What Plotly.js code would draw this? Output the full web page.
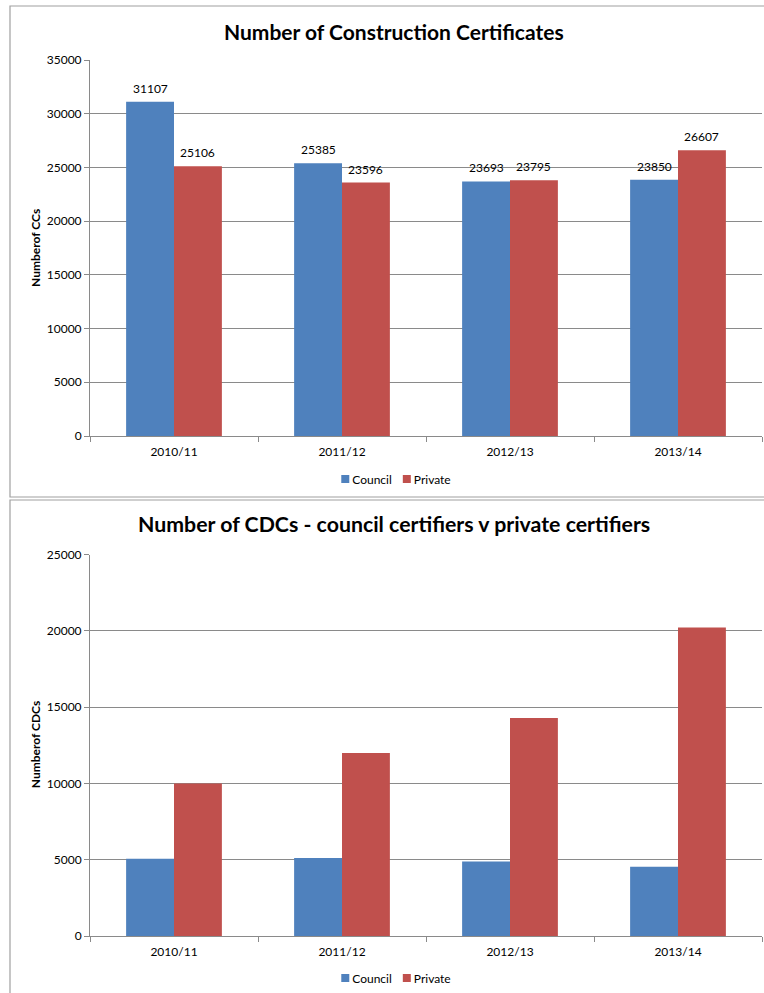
<!DOCTYPE html>
<html>
<head>
<meta charset="utf-8">
<script src="https://cdn.plot.ly/plotly-3.0.1.min.js"></script>
<style>
html,body{margin:0;padding:0;background:#fff;}
#top{position:absolute;left:0;top:0;width:764px;height:498px;}
#bottom{position:absolute;left:0;top:498px;width:764px;height:495px;}
</style>
</head>
<body>
<div id="top"></div>
<div id="bottom"></div>
<script>
// ---- data ----
const years = ["2010/11", "2011/12", "2012/13", "2013/14"];
const ccCouncil = [31107, 25385, 23693, 23850];
const ccPrivate = [25106, 23596, 23795, 26607];
const cdcCouncil = [5065, 5110, 4890, 4540];
const cdcPrivate = [9990, 11990, 14280, 20220];
const seriesNames = ["Council", "Private"];
const ccTicks = [0, 5000, 10000, 15000, 20000, 25000, 30000, 35000];
const cdcTicks = [0, 5000, 10000, 15000, 20000, 25000];
const titleTop = "Number of Construction Certificates";
const titleBottom = "Number of CDCs - council certifiers v private certifiers";
const yTitleTop = "Numberof CCs";
const yTitleBottom = "Numberof CDCs";

// ---- style ----
const W = 764;
const FONT = "Lato, 'Open Sans', sans-serif";
const BLUE = "#4F81BD", RED = "#C0504D";
const GRID = "#8a8a8a", AXIS = "#8a8a8a", BORDER = "#a0a0a0";
const TICK_SIZE = 12;
const BARGAP = 0.43;
const PLOT_L = 90, PLOT_R = 762;
const halfBar = ((PLOT_R - PLOT_L) / years.length) * (1 - BARGAP) / 4;
const LEGEND_CX = 396;

// compact Excel-like legend entries: small squares, tight spacing
function findSymbol(it) {
  const paths = Array.from(it.querySelectorAll("path"));
  return paths.find(p => (p.getAttribute("d") || "").length > 0) || null;
}
function tweakLegend(gd) {
  const items = Array.from(gd.querySelectorAll("g.traces"));
  const gdLeft = gd.getBoundingClientRect().left;
  const parts = [];
  items.forEach(it => {
    const path = findSymbol(it);
    const txt = it.querySelector("text.legendtext");
    if (!path || !txt) return;
    const tr = it.getAttribute("transform") || "";
    const m = /translate\(\s*([-\d.]+)[ ,]*([-\d.]*)\s*\)/.exec(tr);
    const ox = m ? parseFloat(m[1]) : 0, oy = (m && m[2] !== "") ? parseFloat(m[2]) : 0;
    parts.push({it, path, txt, ox, oy});
  });
  if (parts.length !== items.length || !parts.length) return;
  parts.forEach(p => {
    p.path.setAttribute("d", "M4,4H-4V-4H4Z");
    const pb = p.path.getBoundingClientRect();
    const m = p.it.getScreenCTM();
    p.symC = (pb.left + pb.width / 2) - m.e;
    p.txt.setAttribute("x", p.symC + 7);
    p.len = p.txt.getComputedTextLength();
  });
  let x = parts[0].ox;
  parts.forEach(p => {
    p.nx = x;
    p.it.setAttribute("transform", "translate(" + x + "," + p.oy + ")");
    x = x + (p.symC + 7 + p.len + 11) - (p.symC - 4);
  });
  let minL = Infinity, maxR = -Infinity;
  parts.forEach(p => {
    const a = p.path.getBoundingClientRect(), b = p.txt.getBoundingClientRect();
    minL = Math.min(minL, a.left, b.left); maxR = Math.max(maxR, a.right, b.right);
  });
  const shift = LEGEND_CX - ((minL + maxR) / 2 - gdLeft);
  parts.forEach(p => {
    p.it.setAttribute("transform", "translate(" + (p.nx + shift) + "," + p.oy + ")");
  });
}

// opts: pixel positions local to the chart's own div
function drawChart(divId, H, opts) {
  const px = v => v / W;
  const py = v => 1 - v / H;
  const traces = [
    {type: "bar", name: seriesNames[0], x: years, y: opts.council,
     marker: {color: BLUE}, hoverinfo: "x+y"},
    {type: "bar", name: seriesNames[1], x: years, y: opts.priv,
     marker: {color: RED}, hoverinfo: "x+y"}
  ];
  const annotations = [
    {text: "<b>" + opts.title + "</b>", xref: "paper", yref: "paper", x: px(394), y: py(opts.titleY),
     xanchor: "center", yanchor: "middle", showarrow: false,
     font: {family: FONT, size: opts.titleSize, color: "#000"}},
    {text: "<b>" + opts.yTitle + "</b>", xref: "paper", yref: "paper", x: px(35),
     y: py((opts.plotTop + opts.plotBottom) / 2),
     xanchor: "center", yanchor: "middle", showarrow: false, textangle: -90,
     font: {family: FONT, size: 12, color: "#000"}}
  ];
  if (opts.labels) {
    [[opts.council, -1], [opts.priv, 1]].forEach(([vals, side]) => {
      vals.forEach((v, i) => {
        annotations.push({text: String(v), xref: "x", yref: "y", x: years[i], y: v,
          xshift: side * halfBar, yshift: 4, xanchor: "center", yanchor: "bottom",
          showarrow: false, font: {family: FONT, size: TICK_SIZE, color: "#000"}});
      });
    });
  }
  const layout = {
    width: W, height: H,
    margin: {l: 0, r: 0, t: 0, b: 0},
    paper_bgcolor: "#fff", plot_bgcolor: "#fff",
    showlegend: true,
    barmode: "group", bargap: BARGAP, bargroupgap: 0,
    font: {family: FONT, color: "#000"},
    xaxis: {
      domain: [px(PLOT_L), px(PLOT_R)],
      type: "category", showline: true, linecolor: AXIS, linewidth: 1,
      ticks: "outside", tickson: "boundaries", ticklen: 5, tickcolor: AXIS,
      ticklabelstandoff: 5,
      tickfont: {family: FONT, size: TICK_SIZE, color: "#000"}, showgrid: false,
      zeroline: false, fixedrange: true
    },
    yaxis: {
      domain: [py(opts.plotBottom), py(opts.plotTop)],
      range: [0, opts.ticks[opts.ticks.length - 1]],
      tickmode: "array", tickvals: opts.ticks, ticktext: opts.ticks.map(String),
      showline: true, linecolor: AXIS, linewidth: 1,
      ticks: "outside", ticklen: 5, tickcolor: AXIS,
      showgrid: true, gridcolor: GRID, gridwidth: 1,
      zeroline: false, tickfont: {family: FONT, size: TICK_SIZE, color: "#000"},
      fixedrange: true
    },
    legend: {
      orientation: "h", xanchor: "center", yanchor: "middle",
      x: px(LEGEND_CX), y: py(opts.legendY),
      font: {family: FONT, size: TICK_SIZE, color: "#000"},
      bgcolor: "rgba(0,0,0,0)", itemwidth: 30, tracegroupgap: 0, itemclick: false
    },
    annotations: annotations,
    shapes: [
      {type: "rect", xref: "paper", yref: "paper", x0: px(10), x1: px(780),
       y0: py(opts.boxTop), y1: py(opts.boxBottom),
       line: {color: BORDER, width: 1.2}, fillcolor: "rgba(0,0,0,0)", layer: "below"}
    ]
  };
  return Plotly.newPlot(divId, traces, layout, {displayModeBar: false, staticPlot: true})
    .then(gd => {
      const run = () => { try { tweakLegend(gd); } catch (e) { /* keep default legend */ } };
      run();
      setTimeout(run, 50);
      setTimeout(run, 300);
      return gd;
    });
}

drawChart("top", 498, {
  council: ccCouncil, priv: ccPrivate, ticks: ccTicks,
  title: titleTop, titleSize: 21, titleY: 31, yTitle: yTitleTop,
  plotTop: 60, plotBottom: 436, legendY: 479, labels: true,
  boxTop: 6, boxBottom: 497
});
drawChart("bottom", 495, {
  council: cdcCouncil, priv: cdcPrivate, ticks: cdcTicks,
  title: titleBottom, titleSize: 21.3, titleY: 26, yTitle: yTitleBottom,
  plotTop: 56.5, plotBottom: 438, legendY: 480, labels: false,
  boxTop: 2, boxBottom: 520
});
</script>
</body>
</html>
